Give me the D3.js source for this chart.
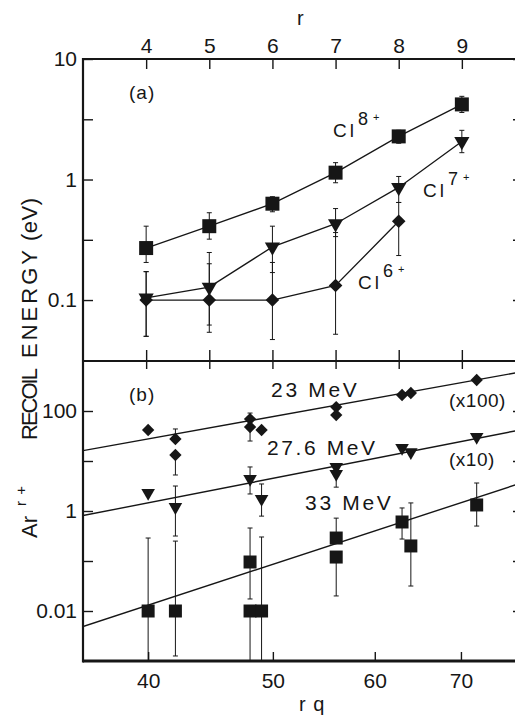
<!DOCTYPE html>
<html>
<head>
<meta charset="utf-8">
<script src="https://cdn.jsdelivr.net/npm/d3@7"></script>
<style>
  body { margin: 0; background: #fff; }
  text { font-family: "Liberation Sans", Arial, sans-serif; fill: #161616; }
  .tick line { stroke: #161616; stroke-width: 1.4; }
</style>
</head>
<body>
<div id="chart"></div>
<script>
// ---- panel (a): mean recoil energy vs r ----
var rValues = [4, 5, 6, 7, 8, 9];
var cl8 = [0.27, 0.41, 0.63, 1.14, 2.28, 4.2];
var cl8Hi = [0.41, 0.53, 0.72, 1.38, 2.56, 4.9];
var cl8Lo = [0.205, 0.32, 0.54, 0.94, 2.0, 3.6];
var cl7 = [0.104, 0.128, 0.276, 0.43, 0.86, 2.07];
var cl7Hi = [0.172, 0.248, 0.41, 0.574, 1.06, 2.56];
var cl7Lo = [0.05, 0.054, 0.169, 0.336, 0.645, 1.67];
var r6 = [4, 5, 6, 7, 8];
var cl6 = [0.1, 0.1, 0.1, 0.132, 0.45];
var cl6Hi = [0.172, 0.2, 0.205, 0.363, 0.645];
var cl6Lo = [0.05, 0.062, 0.047, 0.052, 0.234];

// ---- panel (b): recoil energy vs rq ----
var rq23 = [40, 42, 42, 48, 48, 49, 56, 56, 63, 64, 72];
var e23 = [41.7, 27.5, 13.2, 69, 47.9, 41.7, 120, 83, 209, 229, 417];
var e23Hi = [null, 43.7, null, 91, null, null, null, null, null, null, null];
var e23Lo = [null, null, 5.25, null, 25.1, null, null, null, null, null, null];

var rq276 = [40, 42, 48, 49, 56, 56, 63, 64, 72];
var e276 = [2.29, 1.2, 4.37, 1.74, 7.6, 5.5, 18.2, 15.1, 30.2];
var e276Hi = [null, 3.16, 7.6, 3.47, null, null, null, null, null];
var e276Lo = [null, 0.316, 2.19, 0.79, null, 3.0, null, null, null];

var rq33 = [40, 42, 48, 48, 49, 56, 56, 63, 64, 72];
var e33 = [0.01, 0.01, 0.0955, 0.01, 0.01, 0.288, 0.12, 0.603, 0.2, 1.32];
var e33Hi = [0.288, 0.25, 0.457, null, 0.302, 0.72, null, 1.15, 1.45, 3.63];
var e33Lo = [0.0005, 0.00126, 0.0174, 0.0005, 0.0005, null, 0.02, 0.275, 0.0316, 0.5];

// straight-line fits, given by their end points
var fitRq = [35.6, 78.5];
var fit23 = [16.1, 625];
var fit276 = [0.81, 43.7];
var fit33 = [0.0049, 3.85];

var rTicks = [4, 5, 6, 7, 8, 9];
var rqTicks = [40, 50, 60, 70];
var yTicksA = [0.1, 0.316, 1, 3.16, 10];
var yLabelsA = {10: "10", 1: "1", 0.1: "0.1"};
var yTicksB = [0.01, 0.1, 1, 10, 100];
var yLabelsB = {100: "100", 1: "1", 0.01: "0.01"};

// layout
var width = 515, height = 718;
var left = 83, right = 525;
var topA = 59, botA = 361, botB = 661;
var ink = "#161616";

var svg = d3.select("#chart").append("svg")
  .attr("width", width)
  .attr("height", height);

var x = d3.scaleLinear().domain([3, 10]).range([left, right]);
var xq = d3.scaleLog().domain([35.6, 78.5]).range([left, right]);
var yA = d3.scaleLog().domain([0.0312, 10]).range([botA, topA]);
var yB = d3.scaleLog().domain([0.001, 1000]).range([botB, botA]);

svg.append("clipPath").attr("id", "clipB")
  .append("rect").attr("x", left).attr("y", botA).attr("width", right - left).attr("height", botB - botA);

// axes
function styleAxis(g, size) {
  g.select(".domain").remove();
  g.selectAll("text").style("font-size", size + "px").attr("fill", ink);
}

svg.append("g").attr("transform", "translate(0," + topA + ")")
  .call(d3.axisTop(x).tickValues(rTicks).tickSize(-10).tickPadding(6).tickFormat(d3.format("d")))
  .call(function(g) { styleAxis(g, 21); });

svg.append("g").attr("transform", "translate(0," + botA + ")")
  .call(d3.axisBottom(x).tickValues(rTicks).tickSize(-11).tickFormat(""))
  .call(function(g) { styleAxis(g, 21); });

svg.append("g").attr("transform", "translate(0," + botA + ")")
  .call(d3.axisTop(x).tickValues(rTicks).tickSize(-8).tickFormat(""))
  .call(function(g) { styleAxis(g, 21); });

svg.append("g").attr("transform", "translate(0," + botB + ")")
  .call(d3.axisBottom(xq).tickValues(rqTicks).tickSize(-9).tickPadding(12).tickFormat(d3.format("d")))
  .call(function(g) { styleAxis(g, 21); });

svg.append("g").attr("transform", "translate(" + left + ",0)")
  .call(d3.axisLeft(yA).tickValues(yTicksA).tickSize(-10).tickPadding(6)
    .tickFormat(function(d) { return yLabelsA[d] || ""; }))
  .call(function(g) { styleAxis(g, 21); });

svg.append("g").attr("transform", "translate(" + left + ",0)")
  .call(d3.axisLeft(yB).tickValues(yTicksB).tickSize(-10).tickPadding(6)
    .tickFormat(function(d) { return yLabelsB[d] || ""; }))
  .call(function(g) { styleAxis(g, 21); });

svg.append("g").attr("transform", "translate(" + right + ",0)")
  .call(d3.axisRight(yA).tickValues(yTicksA).tickSize(-12).tickFormat(""))
  .call(function(g) { styleAxis(g, 21); });

svg.append("g").attr("transform", "translate(" + right + ",0)")
  .call(d3.axisRight(yB).tickValues(yTicksB).tickSize(-12).tickFormat(""))
  .call(function(g) { styleAxis(g, 21); });

// frame
var frame = svg.append("g").attr("stroke", ink).attr("stroke-width", 2.2).attr("fill", "none");
frame.append("line").attr("x1", left).attr("x2", right).attr("y1", topA).attr("y2", topA);
frame.append("line").attr("x1", left).attr("x2", right).attr("y1", botA).attr("y2", botA);
frame.append("line").attr("x1", left).attr("x2", right).attr("y1", botB).attr("y2", botB).attr("stroke-width", 2.8);
frame.append("line").attr("x1", left).attr("x2", left).attr("y1", topA - 1).attr("y2", botB + 1.4);

// markers
var shapes = {
  squareA: d3.symbol(d3.symbolSquare, 196)(),
  triA: d3.symbol(d3.symbolTriangle, 100)(),
  diaA: d3.symbol(d3.symbolSquare, 92)(),
  squareB: d3.symbol(d3.symbolSquare, 169)(),
  triB: d3.symbol(d3.symbolTriangle, 80)(),
  diaB: d3.symbol(d3.symbolSquare, 76)()
};
var rotation = {squareA: 0, squareB: 0, triA: 180, triB: 180, diaA: 45, diaB: 45};

function drawSeries(g, xs, ys, his, los, xScale, yScale, shape, connect) {
  var pts = xs.map(function(d, i) { return {x: d, y: ys[i], hi: his[i], lo: los[i]}; });
  if (connect) {
    g.append("path").datum(pts)
      .attr("fill", "none").attr("stroke", ink).attr("stroke-width", 1.3)
      .attr("d", d3.line().x(function(d) { return xScale(d.x); }).y(function(d) { return yScale(d.y); }));
  }
  var bars = g.append("g").attr("stroke", ink).attr("stroke-width", 1);
  pts.forEach(function(d) {
    var px = xScale(d.x);
    var top = d.hi != null ? d.hi : d.y;
    var bot = d.lo != null ? d.lo : d.y;
    if (top === d.y && bot === d.y) return;
    bars.append("line").attr("x1", px).attr("x2", px).attr("y1", yScale(top)).attr("y2", yScale(bot));
    if (d.hi != null) bars.append("line").attr("x1", px - 2.5).attr("x2", px + 2.5).attr("y1", yScale(d.hi)).attr("y2", yScale(d.hi));
    if (d.lo != null && yScale(d.lo) < botB) bars.append("line").attr("x1", px - 2.5).attr("x2", px + 2.5).attr("y1", yScale(d.lo)).attr("y2", yScale(d.lo));
  });
  g.selectAll(null).data(pts).enter().append("path")
    .attr("d", shapes[shape])
    .attr("fill", ink)
    .attr("transform", function(d) {
      return "translate(" + xScale(d.x) + "," + yScale(d.y) + ") rotate(" + rotation[shape] + ")";
    });
}

var gA = svg.append("g");
drawSeries(gA, r6, cl6, cl6Hi, cl6Lo, x, yA, "diaA", true);
drawSeries(gA, rValues, cl7, cl7Hi, cl7Lo, x, yA, "triA", true);
drawSeries(gA, rValues, cl8, cl8Hi, cl8Lo, x, yA, "squareA", true);

var gB = svg.append("g").attr("clip-path", "url(#clipB)");
[fit23, fit276, fit33].forEach(function(f) {
  gB.append("line")
    .attr("x1", xq(fitRq[0])).attr("y1", yB(f[0]))
    .attr("x2", xq(fitRq[1])).attr("y2", yB(f[1]))
    .attr("stroke", ink).attr("stroke-width", 1.4);
});
drawSeries(gB, rq23, e23, e23Hi, e23Lo, xq, yB, "diaB", false);
drawSeries(gB, rq276, e276, e276Hi, e276Lo, xq, yB, "triB", false);
drawSeries(gB, rq33, e33, e33Hi, e33Lo, xq, yB, "squareB", false);

// labels
function label(txt, px, py, size, spacing) {
  return svg.append("text").attr("x", px).attr("y", py)
    .style("font-size", size + "px").style("letter-spacing", (spacing || 0) + "px")
    .text(txt);
}
label("r", 297, 25, 20);
label("r q", 299, 711, 20, 1);
label("(a)", 129, 99, 19, 1);
label("(b)", 129, 401, 19, 1);

function ion(px, py, charge) {
  label("Cl", px, py, 19, 3);
  label(charge, px + 25, py - 12, 18);
  label("+", px + 40, py - 16, 11);
}
ion(333, 137, "8");
ion(423, 197, "7");
ion(358, 289, "6");

label("23 MeV", 271, 397, 21, 2.7);
label("27.6 MeV", 267, 455, 21, 2.6);
label("33 MeV", 305, 510, 21, 2.7);
label("(x100)", 449, 407, 19, 0.5);
label("(x10)", 449, 466, 19, 0.5);

// rotated y title
function vlabel(txt, px, yStart, len, size) {
  var t = svg.append("text")
    .attr("transform", "translate(" + px + "," + yStart + ") rotate(-90)")
    .style("font-size", size + "px")
    .text(txt);
  if (len) t.attr("textLength", len).attr("lengthAdjust", "spacing");
}
vlabel("Ar", 37, 538, 0, 22);
vlabel("r+", 26, 506, 20, 15);
vlabel("RECOIL", 37, 440, 72, 22);
vlabel("ENERGY", 37, 358, 108, 22);
vlabel("(eV)", 37, 241, 43, 22);
</script>
</body>
</html>
